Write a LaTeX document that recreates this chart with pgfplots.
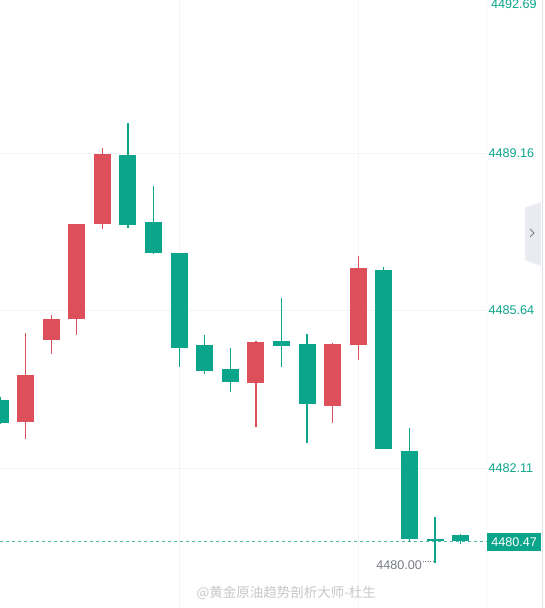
\documentclass[border=0pt]{standalone}
\usepackage{pgfplots}
\pgfplotsset{compat=1.18}
\usepackage{pgfplotstable}
\usepackage{fontspec}
\setmainfont{Liberation Sans}
\newfontfamily\cjk{Noto Sans CJK SC}
\definecolor{cred}{RGB}{221,79,90}
\definecolor{cgreen}{RGB}{11,165,139}
\definecolor{gridc}{RGB}{243,244,246}
\definecolor{edgec}{RGB}{224,227,235}
\definecolor{lowc}{RGB}{120,123,134}

% index, open, high, low, close
\pgfplotstableread{
x  o       h       l       c
1  4483.15 4485.14 4482.77 4484.20
2  4484.98 4485.56 4484.67 4485.45
3  4485.47 4487.58 4485.08 4487.58
4  4487.58 4489.28 4487.47 4489.14
10 4484.03 4484.96 4483.04 4484.94
13 4483.51 4484.91 4483.11 4484.91
14 4484.88 4486.86 4484.54 4486.59
}\redtab

\pgfplotstableread{
x  o       h       l       c
0  4483.66 4483.70 4483.10 4483.13
5  4489.12 4489.84 4487.49 4487.56
6  4487.62 4488.43 4486.91 4486.94
7  4486.93 4486.93 4484.38 4484.79
8  4484.87 4485.09 4484.23 4484.29
9  4484.35 4484.80 4483.82 4484.05
11 4484.96 4485.92 4484.38 4484.83
12 4484.89 4485.12 4482.68 4483.56
15 4486.55 4486.62 4482.54 4482.54
16 4482.50 4483.03 4480.47 4480.53
17 4480.53 4481.02 4480.00 4480.49
18 4480.62 4480.65 4480.42 4480.47
}\greentab

\pgfplotsset{
  wick/.style={draw=none, forget plot,
    error bars/.cd, y dir=both, y explicit, error mark=none,
    error bar style={draw=#1, line width=1.2pt}},
  body/.style={draw=none, forget plot,
    error bars/.cd, y dir=both, y explicit, error mark=none,
    error bar style={draw=#1, line width=17pt}},
}

\begin{document}
\begin{tikzpicture}
\path[use as bounding box] (0,0) rectangle (545pt,608pt);
\begin{axis}[
  at={(0,0)}, anchor=south west,
  scale only axis, width=487pt, height=608pt,
  xmin=0, xmax=19.03, ymin=4478.98, ymax=4492.59,
  axis line style={draw=none},
  major tick length=0pt,
  xtick={7,14}, xticklabels={},
  ytick={4482.11,4485.64,4489.16},
  yticklabels={4482.11,4485.64,4489.16},
  yticklabel pos=right,
  yticklabel style={font=\fontsize{12.6}{14}\selectfont, text=cgreen, anchor=west, xshift=-1.9pt},
  grid=major, grid style={draw=gridc, line width=0.9pt},
]
\draw[edgec, line width=0.8pt] (rel axis cs:1,0) -- (rel axis cs:1,1);

\addplot[cgreen!75, line width=0.9pt, dash pattern=on 3pt off 3pt, forget plot]
  coordinates {(0,4480.47) (19.03,4480.47)};

\addplot[wick=cred] table[x=x, y expr={(\thisrow{h}+\thisrow{l})/2},
  y error expr={(\thisrow{h}-\thisrow{l})/2}] {\redtab};
\addplot[body=cred] table[x=x, y expr={(\thisrow{o}+\thisrow{c})/2},
  y error expr={abs(\thisrow{c}-\thisrow{o})/2}] {\redtab};
\addplot[wick=cgreen] table[x=x, y expr={(\thisrow{h}+\thisrow{l})/2},
  y error expr={(\thisrow{h}-\thisrow{l})/2}] {\greentab};
\addplot[body=cgreen] table[x=x, y expr={(\thisrow{o}+\thisrow{c})/2},
  y error expr={abs(\thisrow{c}-\thisrow{o})/2}] {\greentab};

\draw[lowc, line width=0.8pt, dash pattern=on 1pt off 1.5pt]
  (axis cs:16.52,4480.02) -- (axis cs:16.98,4480.02);
\end{axis}

% right-hand price labels
\node[anchor=west, text=cgreen, font=\fontsize{12.6}{14}\selectfont, inner sep=0pt]
  at (491pt,604pt) {4492.69};
\node[anchor=west, fill=cgreen, text=white, font=\fontsize{12.6}{14}\selectfont,
  inner xsep=3pt, minimum height=18pt, minimum width=54pt]
  at (487pt,65.5pt) {4480.47};
\node[anchor=east, text=lowc, font=\fontsize{12.6}{14}\selectfont, inner sep=0pt]
  at (422pt,43pt) {4480.00};

% right border and collapse tab
\draw[edgec, line width=0.8pt] (542pt,0) -- (542pt,608pt);
\fill[edgec!70] (541pt,406pt) -- (525pt,400pt) -- (525pt,348pt) -- (541pt,342pt) -- cycle;
\draw[lowc, line width=1pt] (530pt,379pt) -- (534pt,375pt) -- (530pt,371pt);

% watermark
\node[text=black!22, font=\cjk\fontsize{13.5}{15}\selectfont, anchor=west]
  at (193pt,15pt) {@黄金原油趋势剖析大师-杜生};
\end{tikzpicture}
\end{document}
